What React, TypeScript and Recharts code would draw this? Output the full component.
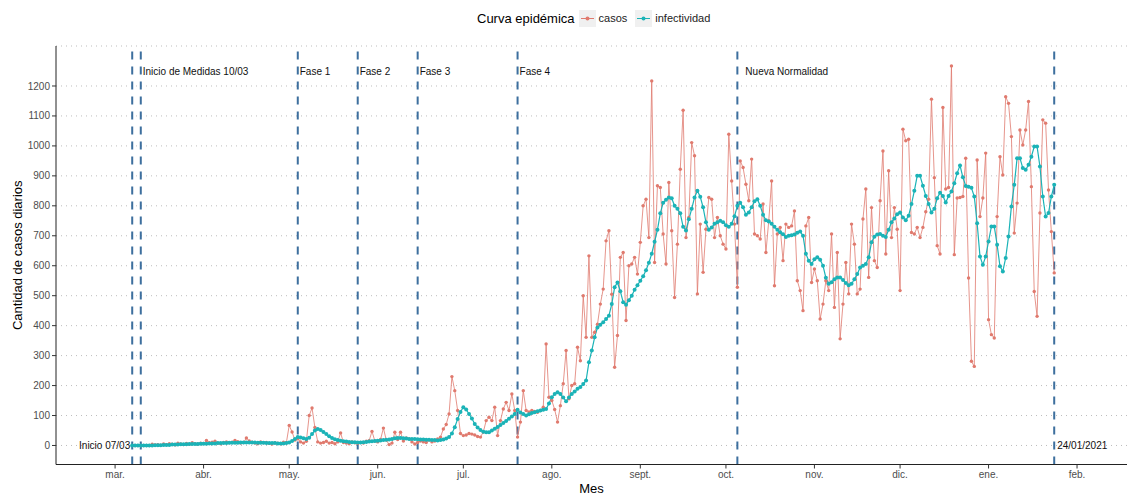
import { ComposedChart, Line, XAxis, YAxis, CartesianGrid, ReferenceLine, ReferenceDot } from 'recharts';

// días contados desde el 01/03/2020; la serie arranca el 07/03
const primerDia = 6;

const casosMar = [0, 0, 0, 0, 0, 0, 0, 4, 2, 3, 1, 5, 3, 6, 4, 2, 8, 5, 3, 7, 4, 9, 6, 5, 8];
const casosAbr = [7, 17, 9, 11, 14, 8, 6, 10, 12, 9, 11, 17, 13, 8, 10, 25, 15, 11, 8, 6, 12, 9, 10, 7, 5, 9, 8, 6, 11, 9];
const casosMay = [67, 45, 18, 22, 12, 8, 14, 100, 125, 60, 12, 8, 10, 14, 8, 10, 6, 12, 42, 10, 8, 6, 12, 9, 7, 10, 8, 14, 16, 47, 15];
const casosJun = [12, 20, 58, 18, 3, 8, 44, 20, 44, 15, 25, 22, 12, 5, 10, 15, 12, 10, 18, 12, 15, 22, 28, 55, 70, 105, 230, 183, 117, 40];
const casosJul = [33, 35, 40, 38, 35, 30, 28, 45, 83, 94, 83, 128, 33, 83, 122, 144, 117, 172, 117, 28, 78, 183, 117, 112, 117, 114, 111, 117, 128, 339, 161];
const casosAgo = [150, 120, 78, 133, 206, 317, 156, 200, 206, 328, 283, 500, 361, 633, 361, 378, 405, 472, 522, 683, 717, 505, 261, 367, 628, 644, 417, 600, 606, 628, 572];
const casosSep = [678, 800, 822, 694, 1217, 611, 867, 861, 706, 606, 878, 717, 494, 672, 922, 1119, 694, 761, 1011, 967, 506, 739, 578, 722, 828, 822, 694, 761, 700, 672];
const casosOct = [656, 1039, 883, 739, 528, 950, 928, 872, 817, 956, 706, 700, 689, 806, 644, 750, 883, 533, 706, 728, 617, 739, 728, 733, 783, 550, 517, 450, 733, 761, 544];
const casosNov = [589, 550, 422, 472, 550, 517, 706, 461, 644, 356, 472, 611, 506, 739, 672, 506, 522, 756, 856, 561, 794, 617, 594, 817, 983, 639, 917, 694, 794, 722];
const casosDic = [517, 1056, 1017, 1022, 711, 706, 728, 694, 728, 780, 822, 1156, 894, 667, 639, 1128, 856, 861, 1267, 637, 826, 828, 831, 959, 559, 281, 264, 953, 764, 826, 976];
const casosEne = [420, 370, 359, 764, 964, 903, 1164, 1142, 1031, 709, 809, 1053, 1003, 1053, 1148, 864, 514, 431, 776, 1087, 1076, 853, 714, 576];

const infMar = [0, 0, 0, 0, 0, 0, 0, 0, 1, 1, 1, 2, 2, 2, 3, 3, 3, 4, 4, 4, 5, 5, 5, 5, 6];
const infAbr = [6, 6, 7, 7, 7, 8, 8, 8, 8, 9, 9, 9, 9, 10, 10, 10, 10, 10, 10, 9, 9, 9, 8, 8, 8, 8, 7, 7, 7, 8];
const infMay = [10, 15, 22, 28, 27, 24, 22, 26, 38, 50, 55, 52, 45, 38, 31, 25, 21, 18, 16, 14, 13, 12, 11, 11, 10, 10, 11, 12, 13, 14, 15];
const infJun = [16, 17, 18, 19, 20, 22, 24, 25, 25, 24, 23, 22, 22, 22, 21, 20, 20, 19, 19, 18, 18, 17, 18, 20, 23, 28, 40, 61, 88, 112];
const infJul = [128, 120, 105, 90, 72, 60, 52, 46, 44, 44, 50, 56, 62, 68, 75, 82, 89, 97, 105, 119, 110, 105, 100, 104, 108, 111, 114, 117, 119, 122, 140];
const infAgo = [161, 172, 178, 172, 160, 148, 160, 172, 180, 189, 195, 205, 217, 278, 317, 361, 394, 403, 411, 422, 433, 472, 528, 544, 515, 478, 470, 485, 500, 520, 535];
const infSep = [550, 565, 585, 610, 640, 680, 720, 775, 810, 820, 828, 825, 800, 790, 775, 730, 718, 755, 790, 828, 850, 830, 795, 745, 720, 728, 740, 745, 750, 745];
const infOct = [735, 730, 740, 765, 800, 810, 795, 770, 778, 795, 815, 822, 800, 770, 752, 748, 740, 730, 720, 712, 705, 696, 700, 702, 704, 710, 714, 700, 640, 617, 606];
const infNov = [622, 628, 620, 600, 560, 540, 545, 555, 561, 561, 552, 542, 535, 540, 555, 572, 594, 600, 606, 628, 678, 697, 704, 706, 700, 696, 720, 745, 758, 772];
const infDic = [778, 761, 752, 767, 806, 850, 900, 900, 867, 833, 806, 778, 790, 825, 844, 833, 811, 833, 848, 875, 909, 935, 895, 866, 864, 860, 831, 742, 631, 603, 631];
const infEne = [681, 731, 731, 670, 598, 581, 626, 698, 798, 870, 959, 959, 926, 920, 937, 964, 998, 998, 931, 831, 764, 776, 831, 870];

const casos = [...casosMar, ...casosAbr, ...casosMay, ...casosJun, ...casosJul, ...casosAgo, ...casosSep, ...casosOct, ...casosNov, ...casosDic, ...casosEne];
const infectividad = [...infMar, ...infAbr, ...infMay, ...infJun, ...infJul, ...infAgo, ...infSep, ...infOct, ...infNov, ...infDic, ...infEne];

const mesesDias = [0, 31, 61, 92, 122, 153, 184, 214, 245, 275, 306, 337];
const mesesNombres = ['mar.', 'abr.', 'may.', 'jun.', 'jul.', 'ago.', 'sept.', 'oct.', 'nov.', 'dic.', 'ene.', 'feb.'];
const yTicks = [0, 100, 200, 300, 400, 500, 600, 700, 800, 900, 1000, 1100, 1200];

const hitosDias = [6, 9, 64, 85, 106, 141, 218, 329];
const fasesDias = [9, 64, 85, 106, 141, 218];
const fasesTextos = ['Inicio de Medidas 10/03', 'Fase 1', 'Fase 2', 'Fase 3', 'Fase 4', 'Nueva Normalidad'];
const fasesAltura = 1250;

const series = [
  { key: 'casos', color: '#E07A6E' },
  { key: 'infectividad', color: '#1BB3B7' },
];

const data = casos.map((c, i) => ({ dia: primerDia + i, casos: c, infectividad: infectividad[i] }));

const font = '"Liberation Sans", Arial, Helvetica, sans-serif';
const dashColor = '#3D6F9E';

function Leyenda() {
  return (
    <div
      style={{
        position: 'absolute',
        top: 8,
        left: 477,
        display: 'flex',
        alignItems: 'center',
        height: 20,
        fontFamily: font,
        whiteSpace: 'nowrap',
      }}
    >
      <span style={{ fontSize: 13, color: '#000', marginRight: 4 }}>Curva epidémica</span>
      {series.map((s) => (
        <span key={s.key} style={{ display: 'flex', alignItems: 'center', marginRight: 8 }}>
          <svg width={17} height={17} style={{ background: '#F0F0F0', marginRight: 3 }}>
            <line x1={2} y1={8.5} x2={15} y2={8.5} stroke={s.color} strokeWidth={1} />
            <circle cx={8.5} cy={8.5} r={2} fill={s.color} />
          </svg>
          <span style={{ fontSize: 11, color: '#222' }}>{s.key}</span>
        </span>
      ))}
    </div>
  );
}

export default function App() {
  return (
    <div style={{ position: 'absolute', left: 0, top: 0, width: 1127, height: 495, fontFamily: font, background: '#fff' }}>
      <Leyenda />
      <ComposedChart width={1127} height={495} data={data} margin={{ top: 46, right: 0, bottom: 0, left: 0 }}>
        <CartesianGrid vertical={false} stroke="#BDBDBD" strokeDasharray="1 4" />
        <XAxis
          dataKey="dia"
          type="number"
          domain={[-20.7, 354.5]}
          allowDataOverflow
          ticks={mesesDias}
          interval={0}
          tickFormatter={(v: number) => mesesNombres[mesesDias.indexOf(v)]}
          height={30.5}
          tickSize={4}
          tick={{ fontSize: 10, fill: '#4D4D4D', fontFamily: font }}
          axisLine={{ stroke: '#222' }}
          tickLine={{ stroke: '#333' }}
          label={{ value: 'Mes', position: 'insideBottom', offset: 2, style: { fontSize: 13, fill: '#000', fontFamily: font } }}
        />
        <YAxis
          type="number"
          domain={[-63.5, 1333.5]}
          allowDataOverflow
          ticks={yTicks}
          interval={0}
          width={56}
          tickSize={4}
          tick={{ fontSize: 10, fill: '#4D4D4D', fontFamily: font }}
          axisLine={{ stroke: '#222' }}
          tickLine={{ stroke: '#333' }}
          label={{
            value: 'Cantidad de casos diarios',
            angle: -90,
            position: 'insideLeft',
            offset: 17,
            style: { textAnchor: 'middle', fontSize: 13, fill: '#000', fontFamily: font },
          }}
        />
        {hitosDias.map((d) => (
          <ReferenceLine key={d} x={d} stroke={dashColor} strokeWidth={2} strokeDasharray="8 7" />
        ))}
        {fasesDias.map((d, i) => (
          <ReferenceDot
            key={'t' + d}
            x={d}
            y={fasesAltura}
            r={0}
            fill="none"
            stroke="none"
            label={{ value: fasesTextos[i], position: 'right', offset: i === 5 ? 8 : 2, fontSize: 10, fill: '#111', fontFamily: font }}
          />
        ))}
        <ReferenceDot
          x={primerDia}
          y={0}
          r={0}
          fill="none"
          stroke="none"
          label={{ value: 'Inicio 07/03', position: 'left', offset: 2, fontSize: 10, fill: '#111', fontFamily: font }}
        />
        <ReferenceDot
          x={329}
          y={0}
          r={0}
          fill="none"
          stroke="none"
          label={{ value: '24/01/2021', position: 'right', offset: 3, fontSize: 10, fill: '#111', fontFamily: font }}
        />
        <Line
          type="linear"
          dataKey="casos"
          stroke={series[0].color}
          strokeWidth={0.8}
          dot={{ r: 1.7, fill: series[0].color, stroke: 'none', strokeWidth: 0 }}
          isAnimationActive={false}
        />
        <Line
          type="linear"
          dataKey="infectividad"
          stroke={series[1].color}
          strokeWidth={1.2}
          dot={{ r: 2, fill: series[1].color, stroke: 'none', strokeWidth: 0 }}
          isAnimationActive={false}
        />
      </ComposedChart>
    </div>
  );
}
